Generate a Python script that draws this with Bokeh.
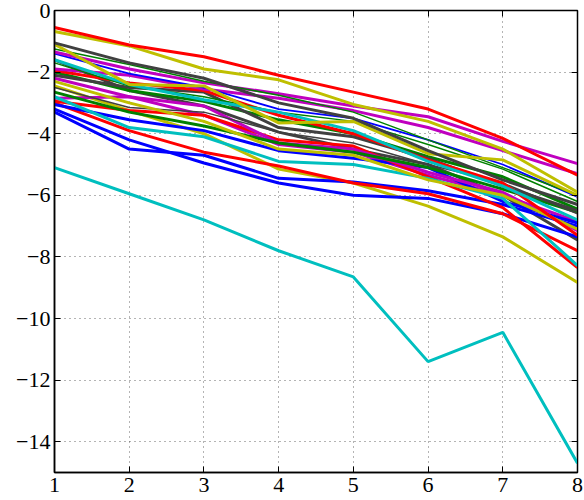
from bokeh.plotting import figure
from bokeh.embed import file_html
from bokeh.resources import INLINE
from bokeh.models import FixedTicker, LinearAxis, Range1d

x = [1, 2, 3, 4, 5, 6, 7, 8]

s01 = [-0.55, -1.12, -1.5, -2.1, -2.65, -3.2, -4.15, -5.35]
s02 = [-0.68, -1.15, -1.9, -2.25, -3.05, -3.6, -4.5, -5.9]
s03 = [-1.05, -1.7, -2.2, -3.0, -3.5, -4.55, -5.5, -6.3]
s04 = [-1.1, -2.4, -2.45, -3.65, -3.6, -4.65, -4.85, -6.0]
s05 = [-1.25, -1.75, -2.3, -2.75, -3.3, -4.2, -5.1, -6.0]
s06 = [-1.35, -1.9, -2.35, -2.7, -3.1, -3.45, -4.25, -4.97]
s07 = [-1.4, -2.05, -2.5, -3.2, -3.5, -4.2, -5.0, -6.05]
s08 = [-1.6, -2.4, -2.9, -3.3, -3.9, -4.9, -5.7, -6.8]
s09 = [-1.7, -2.45, -2.8, -3.3, -3.6, -4.35, -5.15, -6.2]
s10 = [-1.9, -2.1, -2.55, -2.85, -3.25, -3.8, -4.55, -5.3]
s11 = [-1.95, -2.35, -2.6, -3.4, -4.0, -4.85, -5.6, -7.3]
s12 = [-2.1, -2.5, -2.65, -3.8, -4.1, -4.8, -5.7, -6.5]
s13 = [-2.3, -3.0, -3.6, -4.5, -4.7, -5.5, -6.0, -7.1]
s14 = [-2.5, -3.15, -3.3, -3.95, -4.3, -5.0, -5.6, -6.6]
s15 = [-2.65, -3.3, -3.75, -4.3, -4.6, -5.1, -5.8, -6.55]
s16 = [-2.8, -3.8, -4.1, -4.9, -5.0, -5.45, -6.1, -8.28]
s17 = [-2.85, -2.8, -3.1, -4.3, -4.5, -5.25, -5.9, -7.15]
s18 = [-2.95, -3.25, -3.4, -4.2, -4.4, -5.4, -6.4, -8.35]
s19 = [-3.05, -3.55, -3.9, -4.55, -4.8, -5.1, -6.2, -6.9]
s20 = [-3.0, -3.9, -4.6, -5.05, -5.6, -5.95, -6.6, -7.8]
s21 = [-3.2, -4.2, -4.95, -5.6, -6.0, -6.1, -6.6, -7.35]
s22 = [-3.3, -4.5, -4.7, -5.45, -5.57, -5.85, -6.3, -7.0]
s23 = [-2.45, -3.25, -4.0, -5.15, -5.6, -6.35, -7.35, -8.83]
s24 = [-5.1, -5.95, -6.8, -7.8, -8.65, -11.4, -10.45, -14.7]
s25 = [-1.6, -2.6, -3.1, -3.95, -4.5, -5.0, -6.0, -7.45]
s26 = [-2.2, -2.8, -3.4, -4.35, -4.6, -5.35, -6.0, -6.85]
s27 = [-2.0, -2.6, -2.95, -3.55, -4.0, -4.75, -5.4, -6.45]

x_ticks = [1, 2, 3, 4, 5, 6, 7, 8]
y_ticks = [-14, -12, -10, -8, -6, -4, -2, 0]
y_tick_labels = ["\u221214", "\u221212", "\u221210", "\u22128", "\u22126", "\u22124", "\u22122", "0"]

R = "#ff0000"
B = "#0000ff"
C = "#00bfbf"
M = "#bf00bf"
Y = "#bfbf00"
K = "#404040"
G = "#008000"

series = [
    (s25, K, 3), (s27, G, 3), (s26, M, 3),
    (s24, C, 3), (s23, Y, 3), (s22, B, 3), (s21, B, 3), (s20, R, 3),
    (s19, B, 3), (s18, R, 3), (s17, M, 3), (s16, C, 3), (s15, G, 3),
    (s14, K, 1.5), (s13, Y, 3), (s12, K, 3), (s11, R, 3), (s10, M, 3),
    (s09, G, 1.5), (s08, C, 3), (s07, B, 1.8), (s06, M, 3), (s05, G, 1.5),
    (s04, Y, 3), (s03, K, 3), (s02, Y, 3), (s01, R, 3),
]

FONT = "Liberation Serif"

p = figure(width=592, height=508, output_backend="svg", toolbar_location=None,
           x_range=Range1d(1, 8), y_range=Range1d(-15, 0),
           min_border_left=62, min_border_right=7, min_border_top=18, min_border_bottom=28,
           margin=(-8, 0, 0, -8))
p.outline_line_color = "black"
p.outline_line_width = 1.5
p.background_fill_color = "white"
p.border_fill_color = "white"

for ys, col, w in series:
    p.line(x, ys, line_color=col, line_width=w)

p.xaxis.ticker = FixedTicker(ticks=x_ticks)
p.yaxis.ticker = FixedTicker(ticks=y_ticks)
p.yaxis.major_label_overrides = {t: l for t, l in zip(y_ticks, y_tick_labels)}
for ax in (p.xaxis[0], p.yaxis[0]):
    ax.major_label_text_font = FONT
    ax.major_label_text_font_size = "22px"
    ax.major_label_text_color = "black"
    ax.axis_line_color = "black"
    ax.axis_line_width = 1.5
    ax.major_tick_in = 6
    ax.major_tick_out = 0
    ax.minor_tick_line_color = None
    ax.major_tick_line_color = "black"
p.xaxis.major_label_standoff = 5
p.yaxis.major_label_standoff = 4

top = LinearAxis(ticker=FixedTicker(ticks=x_ticks), major_label_text_font_size="0px",
                 major_tick_in=6, major_tick_out=0, minor_tick_line_color=None,
                 axis_line_color="black", major_label_standoff=0)
right = LinearAxis(ticker=FixedTicker(ticks=y_ticks), major_label_text_font_size="0px",
                   major_tick_in=6, major_tick_out=0, minor_tick_line_color=None,
                   axis_line_color="black", major_label_standoff=0)
top.major_label_overrides = {t: "" for t in x_ticks}
right.major_label_overrides = {t: "" for t in y_ticks}
p.add_layout(top, "above")
p.add_layout(right, "right")

for g in (p.xgrid[0], p.ygrid[0]):
    g.grid_line_color = "#444444"
    g.grid_line_dash = "1 4"
    g.grid_line_width = 1
    g.grid_line_alpha = 0.8

open("out.html", "w").write(file_html(p, INLINE))
